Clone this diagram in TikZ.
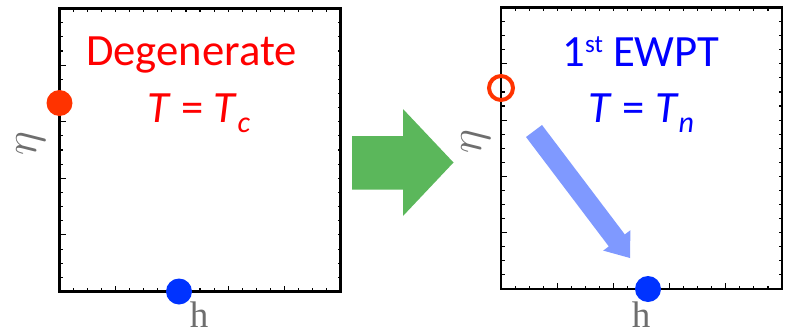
\documentclass[tikz,border=0pt]{standalone}
\usepackage{fix-cm}
\usepackage{fontspec}
\setmainfont{Carlito}
\newfontfamily\axisfont{Liberation Serif}
\definecolor{degred}{RGB}{255,0,0}
\definecolor{dotred}{RGB}{255,51,0}
\definecolor{dotblue}{RGB}{0,51,255}
\definecolor{txtblue}{RGB}{0,0,255}
\definecolor{flowgreen}{RGB}{91,183,91}
\definecolor{pathblue}{RGB}{127,153,255}
\definecolor{axisgray}{RGB}{110,110,110}

% box with inward ticks: 20 divisions per side, every fourth one longer
\newcommand{\tickedframe}[4]{%
  \draw[frame] (#1,#2) rectangle (#3,#4);
  \foreach \i in {1,...,19} {
    \pgfmathsetmacro{\xx}{#1+(#3-#1)*\i/20}
    \pgfmathsetmacro{\yy}{#2+(#4-#2)*\i/20}
    \pgfmathsetmacro{\len}{ifthenelse(mod(\i,4)==0,6,3.5)}
    \draw[tick] (\xx,#4) -- ++(0,-\len);
    \draw[tick] (#1,\yy) -- ++(\len,0);
    \draw[tick] (\xx,#2) -- ++(0,3);
    \draw[tick] (#3,\yy) -- ++(-3,0);
  }%
}

\tikzset{
  frame/.style={line width=2.4pt, black},
  tick/.style={line width=1.1pt, black},
  fulldot/.style={circle, inner sep=0pt, minimum size=26pt},
  ring/.style={circle, inner sep=0pt, minimum size=24pt, draw=dotred, line width=4pt},
  bigtext/.style={font=\fontsize{44.7}{50}\selectfont, anchor=base, inner sep=0pt},
  axislabel/.style={text=axisgray, inner sep=0pt},
}

\begin{document}
\begin{tikzpicture}[x=1pt, y=-1pt]
  \useasboundingbox (0,0) rectangle (788,335);

  % left panel: degenerate minima at T = T_c
  \tickedframe{59.5}{8.5}{340.5}{291.5}
  \node[bigtext, text=degred] (degen) at (191.5,65.5) {Degenerate};
  \node[bigtext, text=degred] (tcrit) at (199,122) {\textit{T} = \textit{T}\raisebox{-10pt}{\fontsize{30}{30}\selectfont\textit{c}}};
  \node[fulldot, fill=dotred] (etaminA) at (59.5,103) {};
  \node[fulldot, fill=dotblue] (hminA) at (179,291.5) {};
  \node[axislabel, rotate=90, font=\fontsize{46}{46}\selectfont] (etaA) at (31,144) {$\eta$};
  \node[axislabel, font=\axisfont\fontsize{37}{37}\selectfont, anchor=base] (hA) at (199,327) {h};

  % transition arrow between the panels
  \fill[flowgreen] (352,136) -- (403,136) -- (403,109) -- (453.5,162.5)
    -- (403,216) -- (403,189.5) -- (352,189.5) -- cycle;

  % right panel: first-order electroweak phase transition at T = T_n
  \tickedframe{501}{7.5}{782}{289}
  \node[bigtext, text=txtblue] (ewpt) at (641,66.7) {1\raisebox{14.5pt}{\fontsize{25}{25}\selectfont st} EWPT};
  \node[bigtext, text=txtblue] (tnuc) at (641.5,122) {\textit{T} = \textit{T}\raisebox{-10pt}{\fontsize{30}{30}\selectfont\textit{n}}};
  \node[ring] (etaminB) at (501,88) {};
  \node[fulldot, fill=dotblue] (hminB) at (648,289) {};
  \node[axislabel, rotate=90, font=\fontsize{46}{46}\selectfont] (etaB) at (476,142) {$\eta$};
  \node[axislabel, font=\axisfont\fontsize{37}{37}\selectfont, anchor=base] (hB) at (641,327) {h};

  % tunnelling direction from the eta vacuum towards the h vacuum
  \fill[pathblue] (542,125) -- (624.8,234.4) -- (630.4,230.2) -- (630,258)
    -- (603.2,250.6) -- (608.8,246.4) -- (526,137) -- cycle;
\end{tikzpicture}
\end{document}
